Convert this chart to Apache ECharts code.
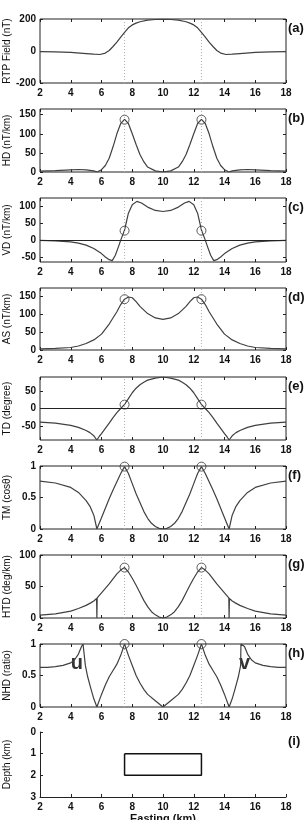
<!DOCTYPE html>
<html><head><meta charset="utf-8">
<script src="https://cdn.jsdelivr.net/npm/echarts@6/dist/echarts.min.js"></script>
<style>html,body{margin:0;padding:0;background:#fff}#c{width:307px;height:820px}</style>
</head><body><div id="c"></div>
<script>
// ---------- data ----------
const eastingTicks = [2, 4, 6, 8, 10, 12, 14, 16, 18];
const edgeX = [7.5, 12.5];

const rtpX = [2,3,4,5,5.5,5.9,6.25,6.5,6.75,7,7.25,7.5,7.75,8,8.25,8.5,9,9.5,10,10.5,11,11.5,11.75,12,12.25,12.5,12.75,13,13.25,13.5,13.75,14.1,14.5,15,16,17,18];
const rtpY = [-4,-5,-9,-16,-20,-22,-13,3,28,55,86,116,145,163,174,183,193,197,198,197,193,183,174,163,145,116,86,55,28,3,-13,-22,-20,-16,-9,-5,-4];

const hdX = [2,3,4,4.5,5,5.5,5.7,6,6.25,6.5,6.75,7,7.25,7.5,7.75,8,8.25,8.5,8.75,9,9.5,10,10.5,11,11.25,11.5,11.75,12,12.25,12.5,12.75,13,13.25,13.5,13.75,14,14.3,14.5,15,15.5,16,17,18];
const hdY = [2.5,3.5,5.5,6.5,5.5,3,0,6,17,36,66,100,127,138,127,100,72,46,27,13,3,0,3,13,27,46,72,100,127,138,127,100,66,36,17,6,0,3,5.5,6.5,5.5,3.5,2.5];

const vdX = [2,3,4,4.5,5,5.5,6,6.25,6.5,6.7,6.9,7.1,7.25,7.5,7.75,8,8.3,8.6,9,9.5,10,10.5,11,11.4,11.7,12,12.25,12.5,12.75,12.9,13.1,13.3,13.5,13.75,14,14.5,15,15.5,16,17,18];
const vdY = [-1,-2,-5,-9,-15,-25,-40,-50,-58,-61,-45,-20,0,30,80,105,115,110,98,88,85,88,98,110,115,105,80,30,0,-20,-45,-61,-58,-50,-40,-25,-15,-9,-5,-2,-1];

const asX = [2,3,4,4.5,5,5.5,6,6.5,7,7.25,7.5,7.75,8,8.25,8.5,9,9.5,10,10.5,11,11.5,11.75,12,12.25,12.5,12.75,13,13.5,14,14.5,15,15.5,16,17,18];
const asY = [3,4.5,7,11,18,28,44,72,106,126,141,147,145,134,121,101,89,85,89,101,121,134,145,147,141,126,106,72,44,28,18,11,7,4.5,3];

const tdX = [2,3,4,4.5,5,5.25,5.5,5.7,5.85,6,6.25,6.5,6.75,7,7.25,7.5,7.75,8,8.25,8.5,8.75,9,9.5,10,10.5,11,11.25,11.5,11.75,12,12.25,12.5,12.75,13,13.25,13.5,13.75,14,14.15,14.3,14.5,14.75,15,15.5,16,17,18];
const tdY = [-39,-42,-48,-54,-63,-69,-78,-90,-80,-72,-57,-42,-26,-12,0,12,28,45,58,68,75,81,87,90,87,81,75,68,58,45,28,12,0,-12,-26,-42,-57,-72,-80,-90,-78,-69,-63,-54,-48,-42,-39];

const tmX = [2,3,4,4.5,5,5.25,5.5,5.7,6,6.25,6.5,6.75,7,7.25,7.5,7.75,8,8.25,8.5,8.75,9,9.25,9.5,9.75,10,10.25,10.5,10.75,11,11.25,11.5,11.75,12,12.25,12.5,12.75,13,13.25,13.5,13.75,14,14.3,14.5,14.75,15,15.5,16,17,18];
const tmY = [0.76,0.73,0.66,0.58,0.45,0.36,0.22,0,0.18,0.33,0.48,0.62,0.75,0.88,0.99,0.88,0.72,0.56,0.42,0.28,0.17,0.09,0.04,0.01,0,0.01,0.04,0.09,0.17,0.28,0.42,0.56,0.72,0.88,0.99,0.88,0.75,0.62,0.48,0.33,0.18,0,0.22,0.36,0.45,0.58,0.66,0.73,0.76];

const htdX = [2,3,4,4.5,5,5.3,5.5,5.68,5.7,5.72,6,6.25,6.5,6.75,7,7.25,7.5,7.75,8,8.25,8.5,8.75,9,9.25,9.5,9.75,10,10.25,10.5,10.75,11,11.25,11.5,11.75,12,12.25,12.5,12.75,13,13.25,13.5,13.75,14,14.28,14.3,14.32,14.5,14.7,15,15.5,16,17,18];
const htdY = [4.5,6.5,11,15,20,24,27,31,0,32,40,47,54,62,70,76,80,73,63,52,40,28,18,10,5,1.5,0,1.5,5,10,18,28,40,52,63,73,80,76,70,62,54,47,40,32,0,31,27,24,20,15,11,6.5,4.5];

const nhdX = [2,2.5,3,3.5,4,4.25,4.5,4.7,4.8,4.93,4.95,5.1,5.3,5.5,5.7,6,6.25,6.5,6.75,7,7.25,7.5,7.75,8,8.25,8.5,8.75,9,9.5,10,10.5,11,11.25,11.5,11.75,12,12.25,12.5,12.75,13,13.25,13.5,13.75,14,14.3,14.5,14.7,14.9,15.05,15.07,15.2,15.3,15.5,15.75,16,16.5,17,17.5,18];
const nhdY = [0.63,0.63,0.64,0.66,0.7,0.75,0.84,0.96,1,1,0.66,0.48,0.3,0.13,0,0.2,0.35,0.48,0.58,0.68,0.82,1,0.82,0.66,0.5,0.38,0.28,0.2,0.1,0,0.1,0.2,0.28,0.38,0.5,0.66,0.82,1,0.82,0.68,0.58,0.48,0.35,0.2,0,0.13,0.3,0.48,0.66,1,1,0.96,0.84,0.75,0.7,0.66,0.64,0.63,0.63];

const circleHD = [137, 137];
const circleVD = [28, 28];
const circleAS = [141, 141];
const circleTD = [11, 11];
const circleTM = [0.99, 0.99];
const circleHTD = [80, 80];
const circleNHD = [1, 1];

const annoX = [4.43, 15.33];
const annoY = [0.69, 0.69];
const annoText = ['u', 'v'];

const bodyX = [7.5, 12.5, 12.5, 7.5, 7.5];
const bodyDepth = [1, 1, 2, 2, 1];

// ---------- chart ----------
const FF = '"Liberation Sans", Arial, sans-serif';
const INK = '#111';
const CURVE = '#404040';
const zip = (a, b) => a.map((v, i) => [v, b[i]]);

const panels = [
  {k:'a', name:'RTP Field (nT)', x:rtpX, y:rtpY, min:-200, max:200, ticks:[-200,0,200], top:19, h:64},
  {k:'b', name:'HD (nT/km)', x:hdX, y:hdY, min:0, max:165, ticks:[0,50,100,150], top:109, h:63, c:circleHD},
  {k:'c', name:'VD (nT/km)', x:vdX, y:vdY, min:-65, max:125, ticks:[-50,0,50,100], top:198, h:64, c:circleVD, zero:true},
  {k:'d', name:'AS (nT/km)', x:asX, y:asY, min:0, max:172, ticks:[0,50,100,150], top:288, h:62, c:circleAS},
  {k:'e', name:'TD (degree)', x:tdX, y:tdY, min:-90, max:90, ticks:[-50,0,50], top:377, h:63, c:circleTD, zero:true},
  {k:'f', name:'TM (cosθ)', x:tmX, y:tmY, min:0, max:1, ticks:[0,0.5,1], top:466, h:63, c:circleTM},
  {k:'g', name:'HTD (deg/km)', x:htdX, y:htdY, min:0, max:100, ticks:[0,50,100], top:555, h:63, c:circleHTD},
  {k:'h', name:'NHD (ratio)', x:nhdX, y:nhdY, min:0, max:1, ticks:[0,0.5,1], top:644, h:63, c:circleNHD},
  {k:'i', name:'Depth (km)', x:bodyX, y:bodyDepth, min:0, max:3, ticks:[0,1,2,3], top:732, h:65, body:true}
];

const grid = [], xAxis = [], yAxis = [], series = [], title = [];
const tickLabel = {fontSize:10, fontWeight:'bold', color:INK, fontFamily:FF};

panels.forEach((p, i) => {
  grid.push({left:40, top:p.top, width:246, height:p.h, containLabel:false, outerBoundsMode:'none',
    show:!p.body, borderColor:'#222', borderWidth:1, backgroundColor:'transparent'});
  const xb = xAxis.length;
  xAxis.push({gridIndex:i, type:'value', min:2, max:18, interval:2, position:'bottom',
    axisLine:{show:!!p.body, onZero:false, lineStyle:{color:'#222', width:1}},
    axisTick:{inside:true, length:3, lineStyle:{color:'#222'}},
    axisLabel:{...tickLabel, margin:5, customValues:eastingTicks},
    splitLine:{show:false},
    name: p.body ? 'Easting (km)' : '', nameLocation:'middle', nameGap:16,
    nameTextStyle:{fontSize:11, fontWeight:'bold', color:INK, fontFamily:FF}});
  if (!p.body) {
    xAxis.push({gridIndex:i, type:'value', min:2, max:18, interval:2, position:'top',
      axisLine:{show:false, onZero:false}, axisTick:{inside:true, length:3, lineStyle:{color:'#222'}},
      axisLabel:{show:false}, splitLine:{show:false}});
  }
  const yl = yAxis.length;
  yAxis.push({gridIndex:i, type:'value', min:p.min, max:p.max, position:'left', inverse:!!p.body,
    axisLine:{show:!!p.body, onZero:false, lineStyle:{color:'#222', width:1}},
    axisTick:{inside:true, length:3, customValues:p.ticks, lineStyle:{color:'#222'}},
    axisLabel:{...tickLabel, margin:4, customValues:p.ticks},
    splitLine:{show:false},
    name:p.name, nameLocation:'middle', nameGap:28, nameRotate:90, nameMoveOverlap:false,
    nameTextStyle:{fontSize:10, color:INK, fontFamily:FF}});
  if (!p.body) {
    yAxis.push({gridIndex:i, type:'value', min:p.min, max:p.max, position:'right',
      axisLine:{show:false, onZero:false}, axisTick:{inside:true, length:3, customValues:p.ticks, lineStyle:{color:'#222'}},
      axisLabel:{show:false}, splitLine:{show:false}});
  }

  const ml = [];
  if (!p.body) { edgeX.forEach(v => ml.push({xAxis:v, lineStyle:{type:[1,2], color:'#b0b0b0', width:1}})); }
  if (p.zero) ml.push({yAxis:0, lineStyle:{type:'solid', color:'#222', width:1}});

  series.push({type:'line', xAxisIndex:xb, yAxisIndex:yl, data:zip(p.x, p.y),
    showSymbol:false, symbol:'none', animation:false,
    lineStyle:{color: p.body ? '#111' : CURVE, width: p.body ? 1.5 : 1.2},
    markLine: ml.length ? {silent:true, symbol:['none','none'], label:{show:false}, animation:false, data:ml} : undefined});

  if (p.c) {
    series.push({type:'scatter', xAxisIndex:xb, yAxisIndex:yl, data:zip(edgeX, p.c), symbol:'circle', symbolSize:9,
      animation:false, clip:false,
      itemStyle:{color:'rgba(0,0,0,0)', borderColor:'#333', borderWidth:1}});
  }
  if (p.k === 'h') {
    series.push({type:'scatter', xAxisIndex:xb, yAxisIndex:yl, data:zip(annoX, annoY), symbolSize:1, animation:false,
      itemStyle:{color:'rgba(0,0,0,0)'}, silent:true,
      label:{show:true, position:[0,0], align:'center', verticalAlign:'middle',
        formatter: q => annoText[q.dataIndex], fontSize:20, fontWeight:'bold', color:'#000',
        textBorderWidth:0, fontFamily:FF}});
  }
  title.push({text:'(' + p.k + ')', left:288, top:p.top + 3, padding:0,
    textStyle:{fontSize:13, fontWeight:'bold', color:INK, fontFamily:FF}});
});

const chart = echarts.init(document.getElementById('c'), null, {renderer:'canvas'});
chart.setOption({animation:false, backgroundColor:'#fff', title, grid, xAxis, yAxis, series});
</script></body></html>
